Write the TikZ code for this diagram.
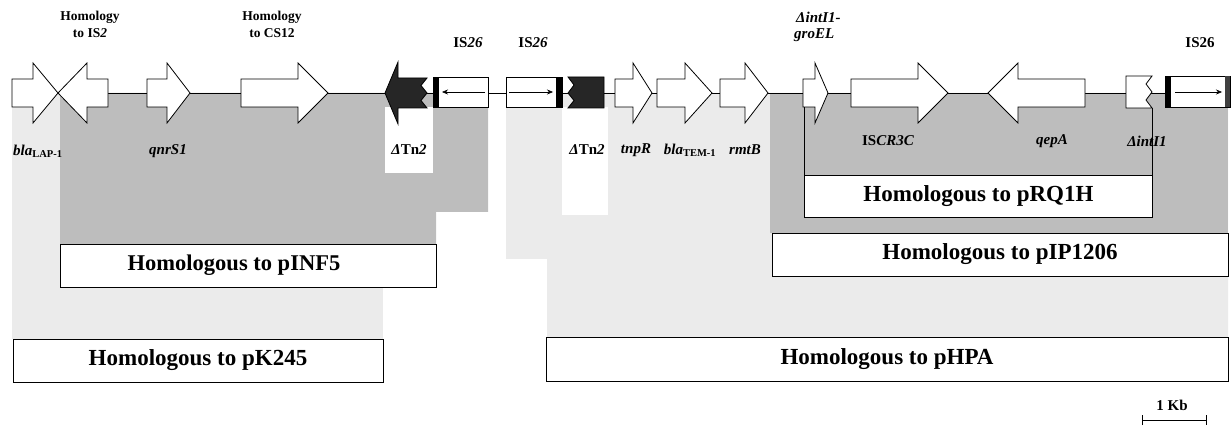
\documentclass[tikz,border=0pt]{standalone}
\usepackage{fontspec}
\setmainfont{Liberation Serif}
\usetikzlibrary{arrows.meta}
\definecolor{lightg}{gray}{0.92}
\definecolor{darkg}{gray}{0.74}
\newcommand{\rgene}[3]{\draw[gene] (#1,79) -- (#2,79) -- (#2,63) -- (#3,93) -- (#2,123) -- (#2,107) -- (#1,107) -- cycle;}
\newcommand{\lgene}[3]{\draw[gene] (#3,79) -- (#2,79) -- (#2,63) -- (#1,93) -- (#2,123) -- (#2,107) -- (#3,107) -- cycle;}
\begin{document}
\begin{tikzpicture}[x=1pt,y=-1pt,
  gene/.style={draw=black,fill=white,line width=0.8pt,line join=miter},
  blk/.style={draw=black,fill=black!85,line width=0.8pt},
  hbox/.style={draw=black,fill=white,line width=0.9pt,inner sep=0pt,
    font=\fontsize{23}{26}\selectfont\bfseries},
  boxlab/.style={font=\fontsize{22.5}{26}\selectfont\bfseries, inner sep=0pt},
  glab/.style={font=\fontsize{15}{17}\selectfont\bfseries\itshape, inner sep=0pt},
  tlab/.style={font=\fontsize{13.5}{15}\selectfont\bfseries, inner sep=0pt},
  islab/.style={font=\fontsize{15}{17}\selectfont\bfseries, inner sep=0pt},
  isarr/.style={-{Stealth[length=6pt,width=5pt]}, line width=0.6pt},
]
\useasboundingbox (0,0) rectangle (1232,430);
% homology shading
\fill[lightg] (12,93) rectangle (383,339);
\fill[lightg] (506,93) -- (1228,93) -- (1228,337) -- (547,337) -- (547,259) -- (506,259) -- cycle;
\fill[darkg] (60,93) -- (488,93) -- (488,212) -- (436,212) -- (436,244) -- (60,244) -- cycle;
\fill[darkg] (770,93) rectangle (1228,233);
\fill[white] (385,107) rectangle (433,173);
\fill[white] (562,107) rectangle (608,215);
% backbone
\coordinate (bbL) at (12,93);
\coordinate (bbR) at (1230,93);
\draw[line width=0.8pt] (bbL) -- (bbR);
% pRQ1H side lines
\coordinate (rqTL) at (804,107);
\coordinate (rqTR) at (1152,108);
% homology boxes
\node[hbox, minimum width=376pt, minimum height=43pt] (pinf5) at (248,265.5) {};
\node[boxlab] (pinf5t) at (234,265.5) {Homologous to pINF5};
\node[hbox, minimum width=370pt, minimum height=43pt] (pk245) at (198,360.5) {Homologous to pK245};
\node[hbox, minimum width=348pt, minimum height=42pt] (prq1h) at (978.5,196) {Homologous to pRQ1H};
\node[hbox, minimum width=456pt, minimum height=43pt] (pip1206) at (1000,254.5) {Homologous to pIP1206};
\node[hbox, minimum width=682pt, minimum height=44pt] (phpa) at (887,359) {Homologous to pHPA};
\draw[line width=0.8pt] (rqTL) -- (rqTL |- prq1h.north);
\draw[line width=0.8pt] (rqTR) -- (rqTR |- prq1h.north);
% genes
\rgene{12}{33}{58}
\lgene{58}{87}{108}
\rgene{147}{167}{190}
\rgene{241}{298}{328}
\draw[blk] (385,93) -- (398,62) -- (398,78) -- (427,78) -- (421,85.5) -- (427,93) -- (421,100.5) -- (427,108) -- (398,108) -- (398,124) -- cycle;
% IS26 #1
\draw[gene] (433,77) rectangle (488,107);
\fill[black] (433,77) rectangle (439,107);
\draw[isarr] (485,92) -- (442,92);
% IS26 #2
\draw[gene] (506,77) rectangle (562,107);
\fill[black] (556,77) rectangle (562,107);
\draw[isarr] (509,92) -- (553,92);
% dTn2 block
\draw[blk] (568,77) -- (604,77) -- (604,108) -- (568,108) -- (574,100.5) -- (568,93) -- (574,85) -- cycle;
\rgene{615}{633}{652}
\rgene{657}{685}{712}
\rgene{720}{745}{768}
\rgene{803}{815}{828}
\rgene{851}{918}{948}
\lgene{988}{1018}{1085}
\draw[gene] (1126,76) -- (1152,76) -- (1146,84) -- (1152,92) -- (1146,100) -- (1152,108) -- (1126,108) -- cycle;
% IS26 #3
\draw[gene] (1165,76) rectangle (1230,107);
\fill[black] (1165,76) rectangle (1171,107);
\fill[black!75] (1225,76) rectangle (1230,107);
\draw[isarr] (1175,92) -- (1222,92);
% top labels
\node[tlab] (h1a) at (90,17) {Homology};
\node[tlab] (h1b) at (90,33) {to IS\textit{2}};
\node[tlab] (h2a) at (272,17) {Homology};
\node[tlab] (h2b) at (272,33) {to CS12};
\node[islab] (is1) at (468,43) {IS\textit{26}};
\node[islab] (is2) at (533,43) {IS\textit{26}};
\node[islab] (is3) at (1200,43) {IS26};
\node[glab, anchor=west] (gro1) at (796,17) {ΔintI1-};
\node[glab, anchor=west] (gro2) at (794,35) {groEL};
% gene labels
\node[glab, anchor=west] (bla1) at (13,151) {bla\textsubscript{\upshape LAP-1}};
\node[glab] (qnr) at (168,151) {qnrS1};
\node[glab] (tn2a) at (409,150) {Δ{\upshape Tn}2};
\node[glab] (tn2b) at (587,150) {Δ{\upshape Tn}2};
\node[glab] (tnpr) at (636,150) {tnpR};
\node[glab] (blat) at (690,150) {bla\textsubscript{\upshape TEM-1}};
\node[glab] (rmtb) at (745,150) {rmtB};
\node[glab] (iscr) at (888,141) {{\upshape IS}CR3C};
\node[glab] (qepa) at (1052,141) {qepA};
\node[glab] (inti) at (1147,141) {ΔintI1};
% scale bar
\node[islab] (kb) at (1172,405) {1 Kb};
\coordinate (sbL) at (1142,420);
\coordinate (sbR) at (1207,420);
\draw[line width=0.7pt, {Bar[width=10pt]}-{Bar[width=10pt]}] (sbL) -- (sbR);
\end{tikzpicture}
\end{document}
